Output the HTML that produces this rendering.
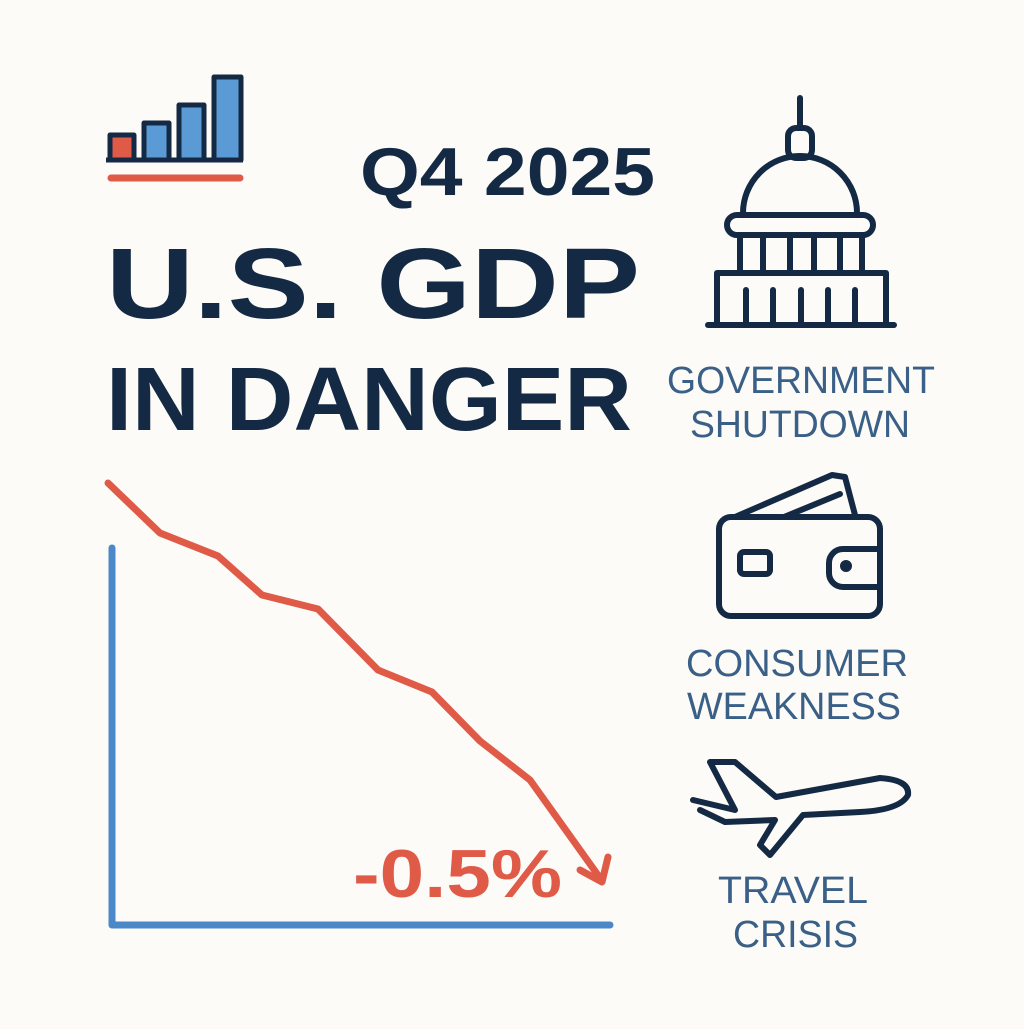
<!DOCTYPE html>
<html><head><style>body{margin:0;background:#fcfbf7}</style></head><body>
<svg width="1024" height="1024" xmlns="http://www.w3.org/2000/svg" font-family="Liberation Sans, sans-serif">
<rect width="1024" height="1024" fill="#fcfbf7"/>
<g stroke="#142a44" stroke-width="5" stroke-linejoin="round">
<rect x="110" y="135" width="24" height="25" fill="#e05a48"/>
<rect x="144" y="123" width="25" height="37" fill="#5b9bd5"/>
<rect x="179" y="105" width="25" height="55" fill="#5b9bd5"/>
<rect x="214" y="77" width="27" height="83" fill="#5b9bd5"/>
<line x1="106" y1="160" x2="243" y2="160"/>
</g>
<line x1="111" y1="178" x2="240" y2="178" stroke="#e05a48" stroke-width="7" stroke-linecap="round"/>
<g fill="#142a44" font-weight="bold">
<text x="360" y="195" font-size="68" textLength="295" lengthAdjust="spacingAndGlyphs">Q4 2025</text>
<text x="106" y="318" font-size="100" textLength="534" lengthAdjust="spacingAndGlyphs">U.S. GDP</text>
<text x="106" y="430" font-size="90" textLength="526" lengthAdjust="spacingAndGlyphs">IN DANGER</text>
</g>
<g fill="none" stroke="#142a44" stroke-width="6" stroke-linecap="round" stroke-linejoin="round">
<line x1="800" y1="98" x2="800" y2="125"/>
<rect x="788" y="128" width="24" height="30" rx="8"/>
<path d="M743 213 A57 57 0 0 1 857 213"/>
<rect x="727" y="215" width="146" height="20" rx="10"/>
<line x1="740" y1="235" x2="740" y2="270"/><line x1="763" y1="235" x2="763" y2="270"/><line x1="790" y1="235" x2="790" y2="270"/><line x1="814" y1="235" x2="814" y2="270"/><line x1="840" y1="235" x2="840" y2="270"/><line x1="862" y1="235" x2="862" y2="270"/>
<path d="M717 325 V273 H886 V325"/>
<line x1="708" y1="325" x2="894" y2="325"/>
<line x1="746" y1="290" x2="746" y2="322"/><line x1="773" y1="290" x2="773" y2="322"/><line x1="801" y1="290" x2="801" y2="322"/><line x1="828" y1="290" x2="828" y2="322"/><line x1="855" y1="290" x2="855" y2="322"/>
<path d="M735 517 L832 475 L845 477 L855 515"/>
<path d="M784 517 L840 494"/>
<rect x="719" y="517" width="161" height="99" rx="12"/>
<rect x="740" y="552" width="30" height="22" rx="4"/>
<path d="M880 549 H843 A14 14 0 0 0 829 563 V573 A14 14 0 0 0 843 587 H880"/>
<circle cx="846" cy="566" r="3"/>
<path d="M693 800 L735 810 L710 762 L735 762 L776 797 L880 778 Q910 780 908 795 Q900 810 860 812 L803 815 L770 855 L760 845 L775 820 L725 822 L700 810"/>
</g>
<g fill="#3a6087" font-size="38">
<text x="667" y="393" textLength="268" lengthAdjust="spacingAndGlyphs">GOVERNMENT</text>
<text x="690" y="437" textLength="220" lengthAdjust="spacingAndGlyphs">SHUTDOWN</text>
<text x="686" y="676" textLength="222" lengthAdjust="spacingAndGlyphs">CONSUMER</text>
<text x="687" y="719" textLength="214" lengthAdjust="spacingAndGlyphs">WEAKNESS</text>
<text x="718" y="903" textLength="150" lengthAdjust="spacingAndGlyphs">TRAVEL</text>
<text x="733" y="947" textLength="125" lengthAdjust="spacingAndGlyphs">CRISIS</text>
</g>
<path d="M112 548 V925 H610" fill="none" stroke="#4a88c8" stroke-width="7" stroke-linecap="round" stroke-linejoin="round"/>
<polyline points="108,483 160,533 218,556 262,595 318,609 378,670 432,692 480,741 530,780 600,878" fill="none" stroke="#e05a48" stroke-width="7" stroke-linecap="round" stroke-linejoin="round"/>
<path d="M580 870 L602 882 L608 857" fill="none" stroke="#e05a48" stroke-width="7" stroke-linecap="round" stroke-linejoin="round"/>
<text x="353" y="897" font-size="68" font-weight="bold" fill="#e05a48" textLength="209" lengthAdjust="spacingAndGlyphs">-0.5%</text>
</svg>
</body></html>
